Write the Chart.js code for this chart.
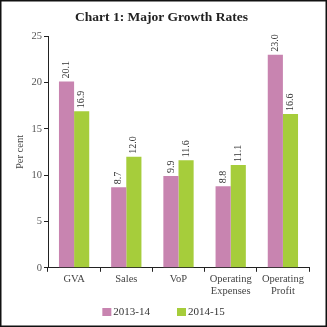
<!DOCTYPE html>
<html>
<head>
<meta charset="utf-8">
<script src="https://cdn.jsdelivr.net/npm/chart.js@4"></script>
<style>
  html, body { margin: 0; padding: 0; background: #fff; }
  #growthChart { display: block; }
</style>
</head>
<body>
<canvas id="growthChart" width="327" height="327"></canvas>
<script>
// Categories and growth rates (per cent)
const categories = ["GVA", "Sales", "VoP", ["Operating", "Expenses"], ["Operating", "Profit"]];
const series2013 = [20.1, 8.7, 9.9, 8.8, 23.0];
const series2014 = [16.9, 12.0, 11.6, 11.1, 16.6];
const yTicks = [0, 5, 10, 15, 20, 25];

const serif = "'Liberation Serif', 'DejaVu Serif', serif";

// Rotated value labels above each bar
const valueLabels = {
    id: "valueLabels",
    afterDatasetsDraw(chart) {
        const ctx = chart.ctx;
        ctx.save();
        ctx.font = "10px " + serif;
        ctx.fillStyle = "#333";
        ctx.textAlign = "left";
        ctx.textBaseline = "middle";
        chart.data.datasets.forEach((ds, i) => {
            chart.getDatasetMeta(i).data.forEach((bar, j) => {
                ctx.save();
                ctx.translate(bar.x, bar.y - 3);
                ctx.rotate(-Math.PI / 2);
                ctx.fillText(ds.data[j].toFixed(1), 0, 0);
                ctx.restore();
            });
        });
        ctx.restore();
    }
};

// Legend drawn by hand so the item spacing can be wider than its height
const bottomLegend = {
    id: "bottomLegend",
    afterDraw(chart) {
        const ctx = chart.ctx;
        const y = 312;
        const boxW = 9, boxH = 8, textGap = 2, itemGap = 27;
        ctx.save();
        ctx.font = "11px " + serif;
        ctx.textBaseline = "middle";
        const items = chart.data.datasets.map(ds => ({
            text: ds.label,
            color: ds.backgroundColor,
            width: boxW + textGap + ctx.measureText(ds.label).width
        }));
        const total = items.reduce((s, it) => s + it.width, 0) + itemGap * (items.length - 1);
        let x = (chart.width - total) / 2;
        items.forEach(it => {
            ctx.fillStyle = it.color;
            ctx.fillRect(x, y - boxH / 2, boxW, boxH);
            ctx.fillStyle = "#333";
            ctx.fillText(it.text, x + boxW + textGap, y + 0.5);
            x += it.width + itemGap;
        });
        ctx.restore();
    }
};

// Thin frame round the whole picture
const frame = {
    id: "frame",
    afterDraw(chart) {
        const ctx = chart.ctx;
        ctx.save();
        ctx.strokeStyle = "#111";
        ctx.lineWidth = 1.5;
        ctx.strokeRect(0.75, 0.75, chart.width - 1.5, chart.height - 1.5);
        ctx.restore();
    }
};

new Chart(document.getElementById("growthChart"), {
    type: "bar",
    data: {
        labels: categories,
        datasets: [
            {
                label: "2013-14",
                data: series2013,
                backgroundColor: "#C884B0"
            },
            {
                label: "2014-15",
                data: series2014,
                backgroundColor: "#A6CD3B"
            }
        ]
    },
    options: {
        responsive: false,
        animation: false,
        layout: { padding: { left: 14, right: 18, top: 0, bottom: 28 } },
        datasets: {
            bar: { categoryPercentage: 0.58, barPercentage: 1.0 }
        },
        plugins: {
            title: {
                display: true,
                text: "Chart 1: Major Growth Rates",
                color: "#222",
                font: { family: serif, size: 13.5, weight: "bold" },
                padding: { top: 9, bottom: 11 }
            },
            legend: { display: false },
            tooltip: { enabled: false }
        },
        scales: {
            x: {
                grid: {
                    offset: true,
                    drawOnChartArea: false,
                    color: "#222",
                    tickLength: 4
                },
                border: { color: "#222", width: 1 },
                ticks: {
                    color: "#444",
                    font: { family: serif, size: 10.5 },
                    maxRotation: 0,
                    padding: 1
                }
            },
            y: {
                min: 0,
                max: 25,
                afterFit(scale) { scale.width = 34; },
                afterBuildTicks(scale) { scale.ticks = yTicks.map(v => ({ value: v })); },
                grid: {
                    drawOnChartArea: false,
                    color: "#222",
                    tickLength: 4
                },
                border: { color: "#222", width: 1 },
                ticks: {
                    color: "#555",
                    font: { family: serif, size: 10.5 },
                    padding: 2
                },
                title: {
                    display: true,
                    text: "Per cent",
                    color: "#444",
                    font: { family: serif, size: 10.5 },
                    padding: { top: 0, bottom: 4 }
                }
            }
        }
    },
    plugins: [valueLabels, bottomLegend, frame]
});
</script>
</body>
</html>
